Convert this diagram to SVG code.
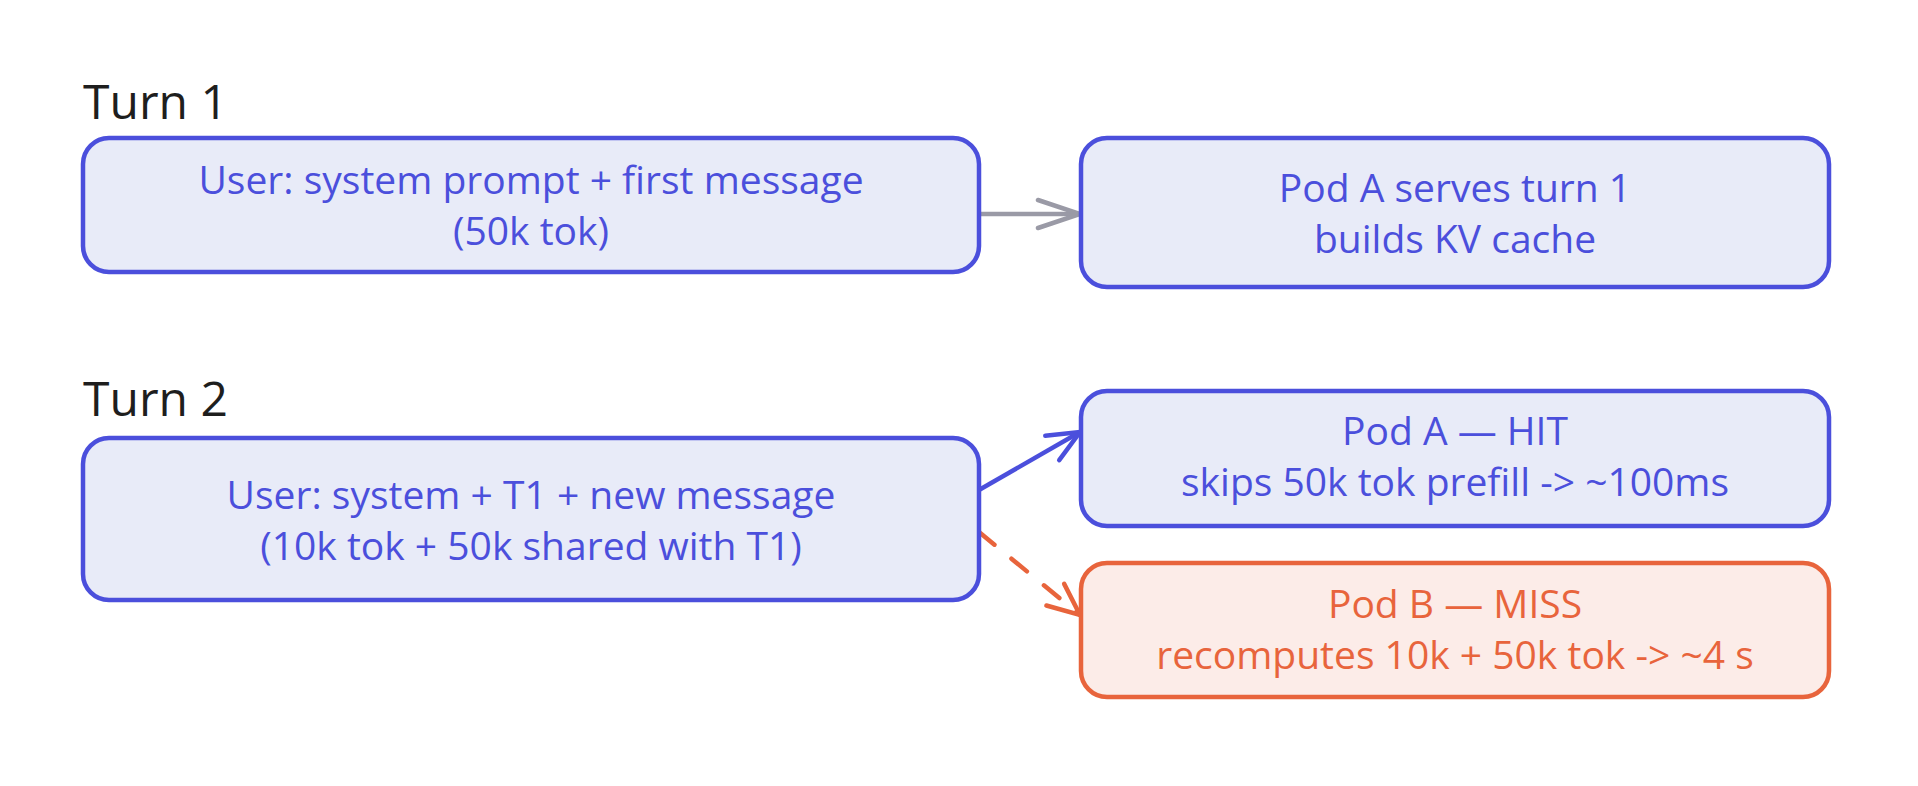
<svg xmlns="http://www.w3.org/2000/svg" width="1918" height="786" viewBox="0 0 1918 786">
<style>
.b{fill:#e8ebf8;stroke:#4b4fdc;stroke-width:4.5}
.r{fill:#fcece8;stroke:#e8643c;stroke-width:4.5}
.t{font-family:"Open Sans","Liberation Sans",sans-serif;font-size:39px;font-weight:500;text-anchor:middle}
.tb{fill:#4b4fdc}.tr{fill:#e8643c}
.h{font-family:"Open Sans","Liberation Sans",sans-serif;font-size:48px;font-weight:500;fill:#1e1e1e}
</style>
<defs>
<marker id="ag" markerWidth="50" markerHeight="40" refX="46" refY="20" orient="auto" markerUnits="userSpaceOnUse"><path d="M4,6 L46,20 L4,34" fill="none" stroke="#9a9aa6" stroke-width="4.5" stroke-linecap="round"/></marker>
<marker id="ab" markerWidth="40" markerHeight="40" refX="36" refY="20" orient="auto" markerUnits="userSpaceOnUse"><path d="M4,6 L36,20 L4,34" fill="none" stroke="#4b4fdc" stroke-width="4.5" stroke-linecap="round"/></marker>
<marker id="ar" markerWidth="40" markerHeight="40" refX="36" refY="20" orient="auto" markerUnits="userSpaceOnUse"><path d="M4,6 L36,20 L4,34" fill="none" stroke="#e8643c" stroke-width="4.5" stroke-linecap="round"/></marker>
</defs>
<text class="h" x="83" y="119">Turn 1</text>
<text class="h" x="83" y="416">Turn 2</text>
<g id="connectors">
<line x1="979" y1="214" x2="1080" y2="214" stroke="#9a9aa6" stroke-width="4.5" marker-end="url(#ag)"/>
<path d="M979,490 L1080,432" fill="none" stroke="#4b4fdc" stroke-width="4.5" marker-end="url(#ab)"/>
<path d="M979,532 L1080,615" fill="none" stroke="#e8643c" stroke-width="4.5" stroke-dasharray="20,22" stroke-linecap="round" marker-end="url(#ar)"/>
</g>
<g id="user1"><rect class="b" x="83" y="138" width="896" height="134" rx="26"/>
<text class="t tb" x="531" y="194">User: system prompt + first message</text>
<text class="t tb" x="531" y="245">(50k tok)</text></g>
<g id="podA1"><rect class="b" x="1081" y="138" width="748" height="149" rx="26"/>
<text class="t tb" x="1455" y="202">Pod A serves turn 1</text>
<text class="t tb" x="1455" y="253">builds KV cache</text></g>
<g id="user2"><rect class="b" x="83" y="438" width="896" height="162" rx="26"/>
<text class="t tb" x="531" y="509">User: system + T1 + new message</text>
<text class="t tb" x="531" y="560">(10k tok + 50k shared with T1)</text></g>
<g id="podAhit"><rect class="b" x="1081" y="391" width="748" height="135" rx="26"/>
<text class="t tb" x="1455" y="445">Pod A — HIT</text>
<text class="t tb" x="1455" y="496">skips 50k tok prefill -&gt; ~100ms</text></g>
<g id="podBmiss"><rect class="r" x="1081" y="563" width="748" height="134" rx="26"/>
<text class="t tr" x="1455" y="618">Pod B — MISS</text>
<text class="t tr" x="1455" y="669">recomputes 10k + 50k tok -&gt; ~4 s</text></g>
</svg>
